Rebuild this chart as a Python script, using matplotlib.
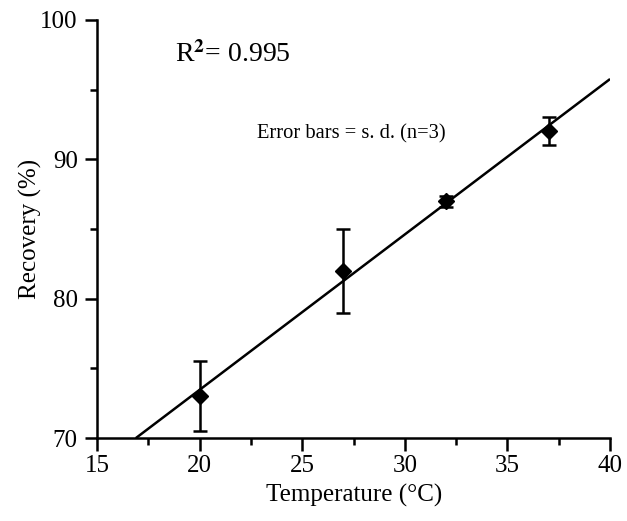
import matplotlib
matplotlib.use("Agg")
import matplotlib.pyplot as plt
import numpy as np
from matplotlib.ticker import MultipleLocator

# data
temperature = [20, 27, 32, 37]
recovery = [73.0, 82.0, 87.0, 92.0]
sd = [2.5, 3.0, 0.4, 1.0]

plt.rcParams['font.family'] = ['Liberation Serif', 'DejaVu Serif']
plt.rcParams['mathtext.fontset'] = 'stix'

fig = plt.figure(figsize=(6.27, 5.21), dpi=100)
ax = fig.add_axes([0.155, 0.159, 0.818, 0.803])

# regression line, clipped at the bottom of the axis
slope, intercept = np.polyfit(temperature, recovery, 1)
x0 = (70 - intercept) / slope
xs = np.array([x0, 40])
ax.plot(xs, slope * xs + intercept, color='black', lw=1.8, solid_capstyle='butt')

ax.errorbar(temperature, recovery, yerr=sd, fmt='D', color='black', ms=8,
            elinewidth=1.8, capsize=5, capthick=1.8)

ax.set_xlim(15, 40)
ax.set_ylim(70, 100)
ax.xaxis.set_major_locator(MultipleLocator(5))
ax.xaxis.set_minor_locator(MultipleLocator(2.5))
ax.yaxis.set_major_locator(MultipleLocator(10))
ax.yaxis.set_minor_locator(MultipleLocator(5))
ax.tick_params(which='major', direction='out', length=9, width=1.8, labelsize=18, pad=5)
ax.tick_params(axis='x', which='major', pad=3)
ax.tick_params(which='minor', direction='out', length=5, width=1.8)

for s in ['top', 'right']:
    ax.spines[s].set_visible(False)
for s in ['left', 'bottom']:
    ax.spines[s].set_linewidth(1.8)

ax.set_xlabel('Temperature (°C)', fontsize=18, labelpad=5)
ax.set_ylabel('Recovery (%)', fontsize=18, labelpad=-1)

ax.text(18.8, 97.5, r'R$^{\mathbf{2}}$= 0.995', fontsize=20, va='center', ha='left')
ax.text(27.4, 91.8, 'Error bars = s. d. (n=3)', fontsize=14.8, va='center', ha='center')

fig.savefig('out.png', dpi=100)
